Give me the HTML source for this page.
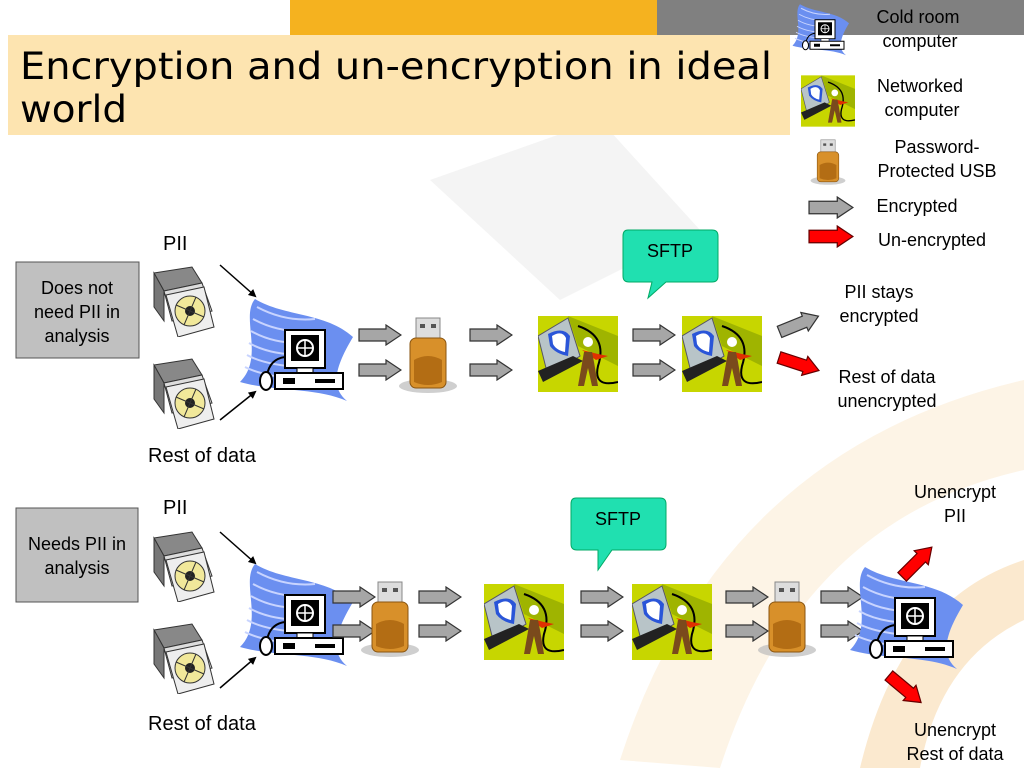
<!DOCTYPE html>
<html><head><meta charset="utf-8"><style>
body{margin:0;width:1024px;height:768px;overflow:hidden;background:#fff;font-family:"Liberation Sans",sans-serif}
</style></head><body>
<svg width="1024" height="768" viewBox="0 0 1024 768" xmlns="http://www.w3.org/2000/svg" font-family="Liberation Sans, sans-serif">
<defs>
<marker id="m" markerWidth="8" markerHeight="8" refX="6" refY="4" orient="auto" markerUnits="userSpaceOnUse"><path d="M0 0L8 4L0 8Z" fill="#000"/></marker>
<symbol id="ga" viewBox="0 0 44 22"><path d="M1 5H28V1L43 11L28 21V17H1Z" fill="#a6a6a6" stroke="#333" stroke-width="1.2"/></symbol>
<symbol id="ra" viewBox="0 0 44 22"><path d="M1 5H28V1L43 11L28 21V17H1Z" fill="#f00" stroke="#600" stroke-width="1.2"/></symbol>
<symbol id="cd" viewBox="0 0 64 72"><path d="M2 8L40 2L50 18L12 26Z" fill="#888" stroke="#333"/><path d="M2 8L12 26V56L2 42Z" fill="#777" stroke="#333"/><path d="M12 26L50 18L60 46L20 56Z" fill="#ddd" stroke="#333"/><path d="M14 30L52 22L62 62L26 72Z" fill="#eee" stroke="#333"/><circle cx="38" cy="46" r="15" fill="#f1e89a" stroke="#333"/><circle cx="38" cy="46" r="5" fill="#222"/><path d="M24 40L52 52M32 60L44 32" stroke="#333"/></symbol>
<symbol id="cold" viewBox="0 0 120 105"><path d="M20 2C50 20 90 15 118 40C100 70 95 90 112 104C80 90 40 95 5 85C30 60 5 20 20 2Z" fill="#6b8ff0"/><g stroke="#c8d4ff" stroke-width="2" fill="none"><path d="M22 10Q50 25 80 22"/><path d="M18 22Q45 37 80 34"/><path d="M16 34Q40 48 75 46"/><path d="M14 46Q35 58 70 58"/><path d="M12 58Q30 68 65 70"/><path d="M10 70Q25 78 60 82"/></g><rect x="50" y="33" width="40" height="38" fill="#fff" stroke="#000" stroke-width="2"/><rect x="56" y="38" width="28" height="26" fill="#000"/><circle cx="70" cy="51" r="8" fill="none" stroke="#fff" stroke-width="2"/><path d="M62 51H78M70 43V59" stroke="#fff" stroke-width="1.5"/><rect x="62" y="71" width="16" height="5" fill="#fff" stroke="#000"/><rect x="40" y="76" width="68" height="16" fill="#fff" stroke="#000" stroke-width="2"/><rect x="48" y="81" width="12" height="6" fill="#000"/><rect x="80" y="82" width="20" height="4" fill="#000"/><path d="M50 60Q35 62 32 78" stroke="#000" stroke-width="2" fill="none"/><ellipse cx="31" cy="84" rx="6" ry="9" fill="#fff" stroke="#000" stroke-width="2"/></symbol>
<symbol id="net" viewBox="0 0 80 76"><rect width="80" height="76" fill="#c7d600"/><path d="M30 0L80 20V50L40 30Z" fill="#9fb400"/><path d="M0 20L30 2L42 40L10 60Z" fill="#b8c4c8" stroke="#556" /><path d="M10 18Q25 10 32 20L30 40Q18 38 12 30Z" fill="#2a55d8"/><path d="M14 20Q24 14 28 22L27 36Q18 34 15 28Z" fill="#fff"/><path d="M0 55L35 40L45 45L5 66Z" fill="#222"/><path d="M40 10Q70 20 60 50Q55 72 80 66" stroke="#000" stroke-width="2" fill="none"/><circle cx="50" cy="26" r="5" fill="#fff"/><path d="M44 34L60 38L70 40L58 44Z" fill="#e03000"/><path d="M46 36L54 36L56 46L60 70L54 70L50 52L46 70L40 70Z" fill="#7a4a1c"/></symbol>
<symbol id="usb" viewBox="0 0 60 78"><ellipse cx="30" cy="70" rx="29" ry="7" fill="#bbb" opacity=".7"/><rect x="18" y="2" width="24" height="22" fill="#ddd" stroke="#888"/><rect x="22" y="8" width="5" height="4" fill="#555"/><rect x="33" y="8" width="5" height="4" fill="#555"/><rect x="12" y="22" width="36" height="50" rx="6" fill="#d8902a" stroke="#8a5510"/><path d="M16 44Q30 36 44 44V66Q30 72 16 66Z" fill="#b36d14"/></symbol>
</defs>
<path d="M430 180L600 120L700 230L560 300Z" fill="#f4f4f4"/>
<path d="M620 760Q720 450 1024 380V470Q800 520 720 768Z" fill="#fdf4e6"/>
<path d="M860 768Q900 600 1024 560V620Q940 660 920 768Z" fill="#fbe9cf"/>
<rect x="290" y="0" width="367" height="35" fill="#f5b21f"/>
<rect x="657" y="0" width="367" height="35" fill="#808080"/>
<rect x="8" y="35" width="782" height="100" fill="#fde4b0"/>
<g font-family="DejaVu Sans, sans-serif" font-size="37" fill="#000">
<text x="20" y="79" textLength="752" lengthAdjust="spacingAndGlyphs">Encryption and un-encryption in ideal</text>
<text x="20" y="122" textLength="107" lengthAdjust="spacingAndGlyphs">world</text>
</g>
<!-- legend -->
<use href="#cold" x="790" y="2" width="60" height="55"/>
<use href="#net" x="801" y="75" width="54" height="52"/>
<use href="#usb" x="810" y="136" width="36" height="52"/>
<use href="#ga" x="808" y="196" width="46" height="23"/>
<use href="#ra" x="808" y="225" width="46" height="23"/>
<g font-size="18" text-anchor="middle">
<text x="918" y="23">Cold room</text><text x="920" y="47">computer</text>
<text x="920" y="92">Networked</text><text x="922" y="116">computer</text>
<text x="937" y="153">Password-</text><text x="937" y="177">Protected USB</text>
<text x="917" y="212">Encrypted</text><text x="932" y="246">Un-encrypted</text>
</g>
<!-- row 1 -->
<rect x="16" y="262" width="123" height="96" fill="#c0c0c0" stroke="#555"/>
<g font-size="18" text-anchor="middle"><text x="77" y="294">Does not</text><text x="77" y="318">need PII in</text><text x="77" y="342">analysis</text></g>
<text x="163" y="250" font-size="20">PII</text>
<text x="148" y="462" font-size="20">Rest of data</text>
<use href="#cd" x="152" y="265" width="64" height="72"/>
<use href="#cd" x="152" y="357" width="64" height="72"/>
<line x1="220" y1="265" x2="255" y2="296" stroke="#000" stroke-width="1.5" marker-end="url(#m)"/>
<line x1="220" y1="420" x2="255" y2="392" stroke="#000" stroke-width="1.5" marker-end="url(#m)"/>
<use href="#cold" x="235" y="297" width="120" height="105"/>
<use href="#ga" x="358" y="324" width="44" height="22"/><use href="#ga" x="358" y="359" width="44" height="22"/>
<use href="#usb" x="398" y="316" width="60" height="78"/>
<use href="#ga" x="469" y="324" width="44" height="22"/><use href="#ga" x="469" y="359" width="44" height="22"/>
<use href="#net" x="538" y="316" width="80" height="76"/>
<use href="#ga" x="632" y="324" width="44" height="22"/><use href="#ga" x="632" y="359" width="44" height="22"/>
<use href="#net" x="682" y="316" width="80" height="76"/>
<use href="#ga" x="776" y="313" width="46" height="22" transform="rotate(-22 799 324)"/>
<use href="#ra" x="776" y="353" width="46" height="22" transform="rotate(18 799 364)"/>
<path d="M628 230H712Q718 230 718 236V276Q718 282 712 282H666L648 298L652 282H629Q623 282 623 276V236Q623 230 628 230Z" fill="#20e0b0" stroke="#0a6" />
<text x="670" y="257" font-size="18" text-anchor="middle">SFTP</text>
<g font-size="18" text-anchor="middle"><text x="879" y="298">PII stays</text><text x="879" y="322">encrypted</text><text x="887" y="383">Rest of data</text><text x="887" y="407">unencrypted</text></g>
<!-- row 2 -->
<rect x="16" y="508" width="122" height="94" fill="#c0c0c0" stroke="#555"/>
<g font-size="18" text-anchor="middle"><text x="77" y="550">Needs PII in</text><text x="77" y="574">analysis</text></g>
<text x="163" y="514" font-size="20">PII</text>
<text x="148" y="730" font-size="20">Rest of data</text>
<use href="#cd" x="152" y="530" width="64" height="72"/>
<use href="#cd" x="152" y="622" width="64" height="72"/>
<line x1="220" y1="532" x2="255" y2="563" stroke="#000" stroke-width="1.5" marker-end="url(#m)"/>
<line x1="220" y1="688" x2="255" y2="658" stroke="#000" stroke-width="1.5" marker-end="url(#m)"/>
<use href="#cold" x="235" y="562" width="120" height="105"/>
<use href="#ga" x="332" y="586" width="44" height="22"/><use href="#ga" x="332" y="620" width="44" height="22"/>
<use href="#usb" x="360" y="580" width="60" height="78"/>
<use href="#ga" x="418" y="586" width="44" height="22"/><use href="#ga" x="418" y="620" width="44" height="22"/>
<use href="#net" x="484" y="584" width="80" height="76"/>
<use href="#ga" x="580" y="586" width="44" height="22"/><use href="#ga" x="580" y="620" width="44" height="22"/>
<use href="#net" x="632" y="584" width="80" height="76"/>
<use href="#ga" x="725" y="586" width="44" height="22"/><use href="#ga" x="725" y="620" width="44" height="22"/>
<use href="#usb" x="757" y="580" width="60" height="78"/>
<use href="#ga" x="820" y="586" width="44" height="22"/><use href="#ga" x="820" y="620" width="44" height="22"/>
<use href="#cold" x="845" y="565" width="120" height="105"/>
<use href="#ra" x="894" y="551" width="46" height="22" transform="rotate(-45 917 562)"/>
<use href="#ra" x="882" y="678" width="46" height="22" transform="rotate(40 905 689)"/>
<path d="M576 498H660Q666 498 666 504V544Q666 550 660 550H612L598 570L598 550H577Q571 550 571 544V504Q571 498 576 498Z" fill="#20e0b0" stroke="#0a6"/>
<text x="618" y="525" font-size="18" text-anchor="middle">SFTP</text>
<g font-size="18" text-anchor="middle"><text x="955" y="498">Unencrypt</text><text x="955" y="522">PII</text><text x="955" y="736">Unencrypt</text><text x="955" y="760">Rest of data</text></g>
</svg>
</body></html>
